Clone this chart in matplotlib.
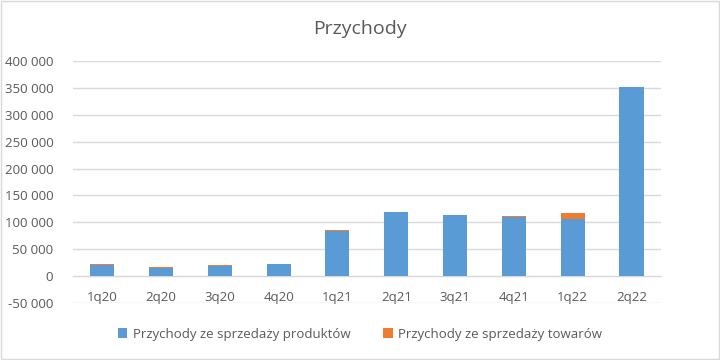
import numpy as np
import matplotlib.pyplot as plt
import matplotlib.ticker as mticker

plt.rcParams['font.family'] = ['Open Sans', 'DejaVu Sans']

# Données
kwartaly = ["1q20", "2q20", "3q20", "4q20", "1q21", "2q21", "3q21", "4q21", "1q22", "2q22"]
produkty = [19900, 15400, 19100, 22300, 83600, 119000, 113400, 109700, 105900, 351000]
towary = [2300, 1300, 1300, 0, 1900, 0, 0, 1800, 11200, 1000]

niebieski = "#5B9BD5"
pomaranczowy = "#ED7D31"
szary = "#595959"

fig = plt.figure(figsize=(7.2, 3.6), dpi=100)
ax = fig.add_axes([0.101, 0.158, 0.817, 0.673])

x = np.arange(len(kwartaly))
ax.bar(x, produkty, width=0.41, color=niebieski, label="Przychody ze sprzedaży produktów", zorder=3)
ax.bar(x, towary, width=0.41, bottom=produkty, color=pomaranczowy, label="Przychody ze sprzedaży towarów", zorder=3)

ax.set_xlim(-0.5, len(kwartaly) - 0.5)
ax.set_ylim(-50000, 400000)
ax.set_yticks(np.arange(-50000, 400001, 50000))
ax.yaxis.set_major_formatter(mticker.FuncFormatter(lambda v, p: f"{int(v):,}".replace(",", " ")))
ax.grid(axis="y", color="#D9D9D9", linewidth=1, zorder=0)

ax.set_xticks(x)
ax.set_xticklabels(kwartaly)
for s in ["top", "right", "left"]:
    ax.spines[s].set_visible(False)
ax.spines["bottom"].set_position(("data", 0))
ax.spines["bottom"].set_color("#D9D9D9")
ax.tick_params(axis="both", length=0, colors=szary, labelsize=9.5)
ax.tick_params(axis="x", pad=11)
ax.tick_params(axis="y", pad=14)

fig.text(0.5, 0.92, "Przychody", ha="center", va="center", fontsize=14, color=szary)

fig.legend(loc="center", bbox_to_anchor=(0.5, 0.072), ncol=2, frameon=False,
           fontsize=9.5, labelcolor=szary, handlelength=0.7, handleheight=0.7,
           columnspacing=2.5, handletextpad=0.4)

# Cadre
fig.patches.append(plt.Rectangle((0.001, 0.002), 0.997, 0.995, transform=fig.transFigure,
                                 fill=False, edgecolor="#D9D9D9", linewidth=1))

plt.savefig("out.png", dpi=100)
plt.close()
